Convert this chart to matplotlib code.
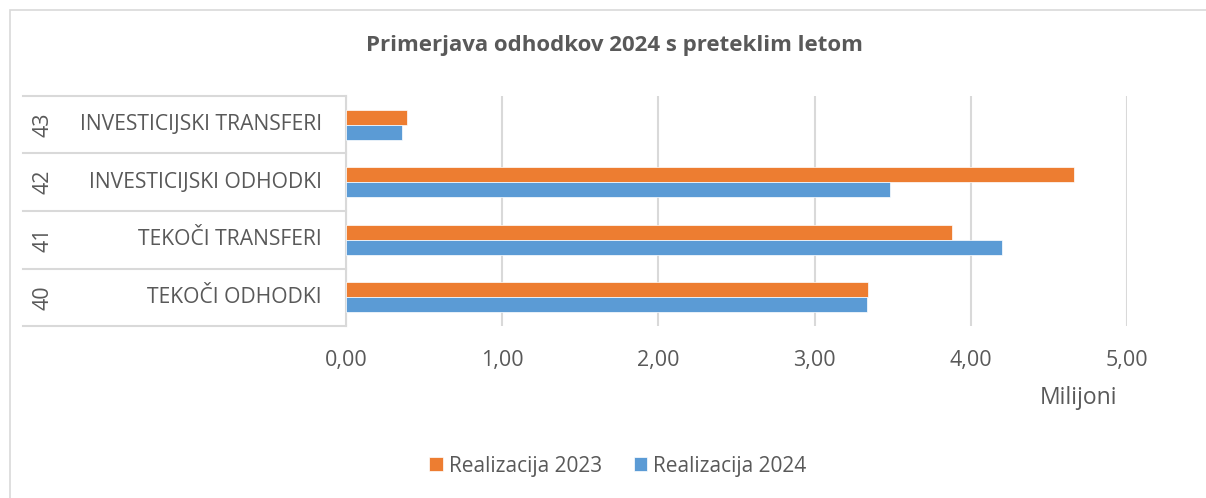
import numpy as np
import matplotlib
matplotlib.use('Agg')
import matplotlib.pyplot as plt
import matplotlib.transforms as mtransforms
from matplotlib.patches import Rectangle

# data (millions of EUR)
codes = ['40', '41', '42', '43']
names = ['TEKOČI ODHODKI', 'TEKOČI TRANSFERI', 'INVESTICIJSKI ODHODKI',
         'INVESTICIJSKI TRANSFERI']
real_2023 = [3.34, 3.88, 4.66, 0.39]
real_2024 = [3.335, 4.20, 3.48, 0.36]
xticks = [0, 1, 2, 3, 4, 5]
xticklabels = ['0,00', '1,00', '2,00', '3,00', '4,00', '5,00']

c_2023 = '#ED7D31'
c_2024 = '#5B9BD5'
txt = '#595959'
grid = '#D9D9D9'

plt.rcParams['font.family'] = ['Open Sans', 'DejaVu Sans']

W, H = 1206, 498
fig = plt.figure(figsize=(W / 100, H / 100), dpi=100)

# chart frame
fig.patches.append(Rectangle((10 / W, -0.01), 1.0, (H - 10) / H + 0.01,
                             transform=fig.transFigure, fill=False,
                             edgecolor=grid, linewidth=1.2))

x0, x1, y0, y1 = 346, 1127, 96, 326
ax = fig.add_axes([x0 / W, 1 - y1 / H, (x1 - x0) / W, (y1 - y0) / H])

y = np.arange(len(codes))
h = 0.26
ax.barh(y + h / 2, real_2023, height=h, color=c_2023, edgecolor='white',
        linewidth=0.5, label='Realizacija 2023', zorder=3)
ax.barh(y - h / 2, real_2024, height=h, color=c_2024, edgecolor='white',
        linewidth=0.5, label='Realizacija 2024', zorder=3)

ax.set_xlim(0, 5)
ax.set_ylim(-0.5, len(codes) - 0.5)
ax.set_xticks(xticks)
ax.set_xticklabels(xticklabels, color=txt, fontsize=15.5)
ax.tick_params(axis='x', length=0, pad=17)
ax.set_yticks([])
ax.grid(axis='x', color=grid, linewidth=1.5, zorder=0)
for s in ['top', 'right', 'bottom']:
    ax.spines[s].set_visible(False)
ax.spines['left'].set_color(grid)
ax.spines['left'].set_linewidth(1.5)

# multi-level category table on the left
trans = mtransforms.blended_transform_factory(ax.transAxes, ax.transData)
left = (23 - x0) / (x1 - x0)
for i in range(len(codes) + 1):
    ax.plot([left, 0], [i - 0.5, i - 0.5], transform=trans, color=grid,
            linewidth=1.5, clip_on=False)
for i in range(len(codes)):
    ax.text((322 - x0) / (x1 - x0), y[i], names[i], transform=trans,
            ha='right', va='center', fontsize=15.2, color=txt)
    ax.text((43 - x0) / (x1 - x0), y[i], codes[i], transform=trans,
            ha='center', va='center', rotation=90, fontsize=15.5, color=txt)

fig.text(614 / W, 1 - 46 / H, 'Primerjava odhodkov 2024 s preteklim letom',
         ha='center', va='center', fontsize=16, fontweight='bold', color=txt)
fig.text(1078 / W, 1 - 398 / H, 'Milijoni', ha='center', va='center',
         fontsize=16.5, color=txt)

fig.legend(loc='center', bbox_to_anchor=(618 / W, 1 - 466 / H), ncol=2,
           frameon=False, fontsize=15, labelcolor=txt, handlelength=0.65,
           handleheight=0.65, handletextpad=0.3, columnspacing=1.5)

fig.savefig('out.png', dpi=100)
